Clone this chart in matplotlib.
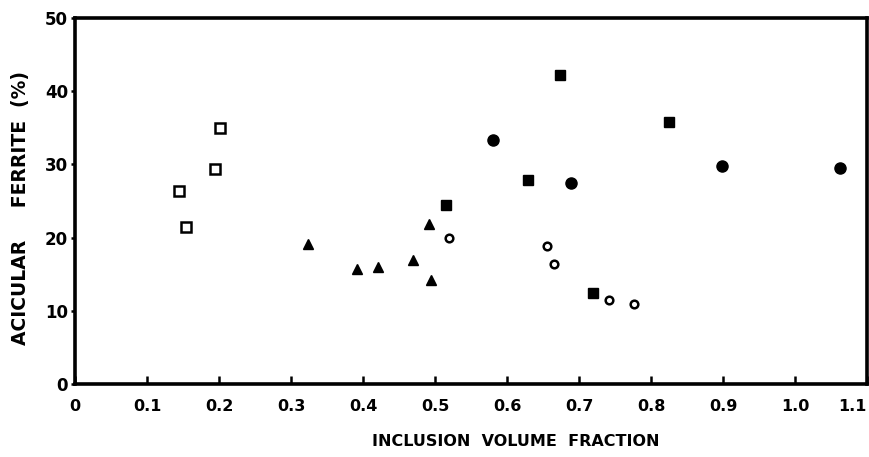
import matplotlib.pyplot as plt

# acicular ferrite vs inclusion volume fraction, one group per marker style
open_sq_x = [0.144, 0.154, 0.195, 0.201]
open_sq_y = [26.3, 21.4, 29.4, 35.0]

tri_x = [0.323, 0.391, 0.421, 0.470, 0.491, 0.494]
tri_y = [19.1, 15.7, 16.0, 16.9, 21.9, 14.2]

fill_sq_x = [0.515, 0.629, 0.673, 0.720, 0.825]
fill_sq_y = [24.4, 27.9, 42.2, 12.4, 35.8]

fill_ci_x = [0.581, 0.689, 0.899, 1.062]
fill_ci_y = [33.3, 27.5, 29.8, 29.5]

open_ci_x = [0.520, 0.655, 0.665, 0.741, 0.777]
open_ci_y = [19.9, 18.9, 16.4, 11.5, 10.9]

x_ticks = [0, 0.1, 0.2, 0.3, 0.4, 0.5, 0.6, 0.7, 0.8, 0.9, 1.0, 1.1]
x_labels = ['0', '0.1', '0.2', '0.3', '0.4', '0.5', '0.6', '0.7', '0.8', '0.9', '1.0', '1.1']
y_ticks = [0, 10, 20, 30, 40, 50]

plt.rcParams['font.family'] = ['DejaVu Sans']
plt.rcParams['font.weight'] = 'bold'

fig = plt.figure(figsize=(8.7, 4.57), dpi=100)
ax = fig.add_axes([0.0862, 0.1597, 0.9104, 0.8009])

ax.plot(open_sq_x, open_sq_y, 's', ms=6.5, mfc='white', mec='black', mew=1.8)
ax.plot(tri_x, tri_y, '^', ms=7, color='black')
ax.plot(fill_sq_x, fill_sq_y, 's', ms=7, color='black')
ax.plot(fill_ci_x, fill_ci_y, 'o', ms=8, color='black')
ax.plot(open_ci_x, open_ci_y, 'o', ms=5.5, mfc='white', mec='black', mew=1.8)

ax.set_xlim(0, 1.1)
ax.set_ylim(0, 50)
ax.set_xticks(x_ticks)
ax.set_xticklabels(x_labels)
ax.set_yticks(y_ticks)
ax.tick_params(axis='x', direction='in', length=6, width=1.8, pad=11, labelsize=11.5)
ax.tick_params(axis='y', direction='out', length=3, width=1.8, pad=2, labelsize=12)
# last label sits against the right edge
ax.get_xticklabels()[-1].set_horizontalalignment('right')

for s in ax.spines.values():
    s.set_linewidth(2.6)

ax.set_xlabel('INCLUSION  VOLUME  FRACTION', fontsize=11.5, fontweight='bold',
              labelpad=14, x=0.556)
ax.set_ylabel('ACICULAR     FERRITE  (%)', fontsize=13.5, fontweight='bold',
              labelpad=11, y=0.48)

fig.savefig('out.png', dpi=100)
